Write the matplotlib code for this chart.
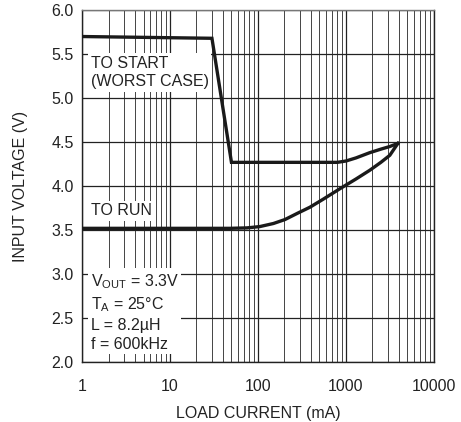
import matplotlib
matplotlib.use("Agg")
import matplotlib.pyplot as plt
from matplotlib.ticker import LogLocator, NullFormatter, FixedLocator

plt.rcParams['font.family'] = ['Liberation Sans', 'DejaVu Sans']
plt.rcParams['mathtext.fontset'] = 'custom'
plt.rcParams['mathtext.rm'] = 'Liberation Sans'

# start curve (worst case), load current in mA vs input voltage
start_current = [1, 30, 50, 200, 500, 800, 1000, 1300, 1870, 2500, 3160, 3900]
start_voltage = [5.70, 5.68, 4.27, 4.27, 4.27, 4.27, 4.285, 4.32, 4.38, 4.42, 4.45, 4.485]

# run curve
run_current = [1, 20, 48, 75, 105, 150, 203, 280, 390, 550, 855, 1300, 1870, 2500, 3160, 3900]
run_voltage = [3.52, 3.52, 3.52, 3.525, 3.54, 3.575, 3.62, 3.69, 3.76, 3.85, 3.97, 4.08, 4.18, 4.27, 4.35, 4.485]

x_ticks = [1, 10, 100, 1000, 10000]
x_tick_labels = ['1', '10', '100', '1000', '10000']
y_ticks = [2.0, 2.5, 3.0, 3.5, 4.0, 4.5, 5.0, 5.5, 6.0]

fig = plt.figure(figsize=(4.61, 4.22), dpi=100)
ax = fig.add_axes([0.178, 0.142, 0.763, 0.834])

ax.set_xscale('log')
ax.set_xlim(1, 10000)
ax.set_ylim(2.0, 6.0)

ax.xaxis.set_major_locator(FixedLocator(x_ticks))
ax.set_xticklabels(x_tick_labels)
ax.xaxis.set_minor_locator(LogLocator(base=10, subs=range(2, 10)))
ax.xaxis.set_minor_formatter(NullFormatter())
ax.set_yticks(y_ticks)
ax.set_yticklabels([f'{v:.1f}' for v in y_ticks])

ax.grid(True, which='major', color='#222222', linewidth=0.9)
ax.grid(True, which='minor', axis='x', color='#444444', linewidth=0.7)
ax.tick_params(which='both', length=0, labelsize=11.5, colors='#222222')
ax.tick_params(axis='x', pad=12)
ax.tick_params(axis='y', pad=6)
for s in ax.spines.values():
    s.set_color('#222222')
    s.set_linewidth(1.0)
ax.spines['top'].set_color('#777777')

ax.plot(start_current, start_voltage, color='#1a1a1a', linewidth=2.4, zorder=5,
        solid_joinstyle='miter')
ax.plot(run_current, run_voltage, color='#1a1a1a', linewidth=2.4, zorder=5)

box = dict(facecolor='white', edgecolor='none', pad=2)
ax.text(1.25, 5.29, 'TO START\n(WORST CASE)', fontsize=11.5, color='#222222',
        va='center', ha='left', linespacing=1.3, bbox=box, zorder=4)
ax.text(1.25, 3.72, 'TO RUN', fontsize=11.5, color='#222222',
        va='center', ha='left', bbox=box, zorder=4)
ax.text(1.25, 2.57,
        'V$_{\\mathregular{OUT}}$ = 3.3V\nT$_{\\mathregular{A}}$ = 25°C\nL = 8.2µH\nf = 600kHz',
        fontsize=11.5, color='#222222', va='center', ha='left', linespacing=1.32,
        bbox=box, zorder=4)

ax.set_xlabel('LOAD CURRENT (mA)', fontsize=11.5, color='#222222', labelpad=9)
ax.set_ylabel('INPUT VOLTAGE (V)', fontsize=11.5, color='#222222', labelpad=17)

fig.savefig('out.png', dpi=100)
